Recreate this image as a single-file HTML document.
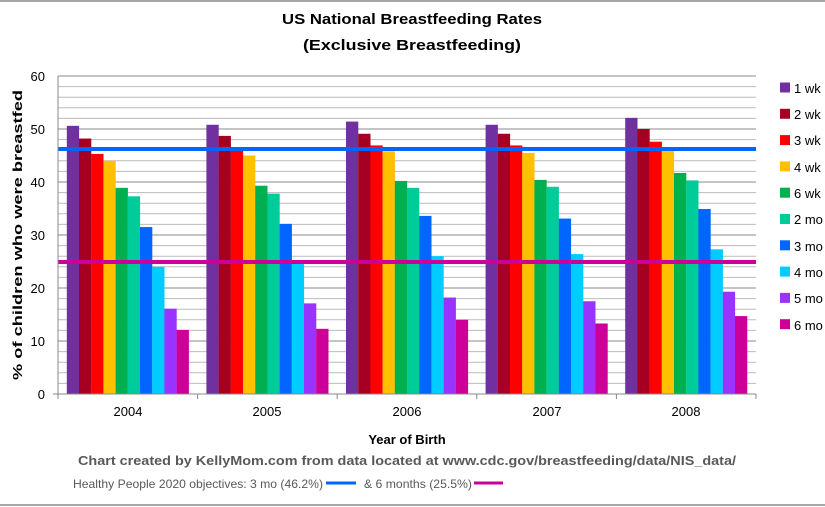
<!DOCTYPE html>
<html><head><meta charset="utf-8"><style>
html,body{margin:0;padding:0;background:#fff}
svg{display:block}
text{font-family:"Liberation Sans",sans-serif}
</style></head><body>
<svg id="s" width="825" height="507" xmlns="http://www.w3.org/2000/svg">
<rect width="825" height="507" fill="#fff"/>
<line x1="0" y1="1" x2="825" y2="1" stroke="#888" stroke-width="1.5"/>
<line x1="0" y1="505" x2="825" y2="505" stroke="#888" stroke-width="1.5"/>
<text x="412" y="24" text-anchor="middle" font-size="15" font-weight="bold" textLength="260" lengthAdjust="spacingAndGlyphs">US National Breastfeeding Rates</text>
<text x="412" y="50" text-anchor="middle" font-size="15" font-weight="bold" textLength="218" lengthAdjust="spacingAndGlyphs">(Exclusive Breastfeeding)</text>
<g id="grid"></g>
<g id="bars"></g>
<line x1="58" y1="149" x2="756" y2="149" stroke="#0066ff" stroke-width="4"/>
<line x1="58" y1="262" x2="756" y2="262" stroke="#cc0099" stroke-width="4"/>
<line x1="58" y1="76" x2="58" y2="399" stroke="#888"/>
<line x1="53" y1="394" x2="756" y2="394" stroke="#888"/>
<g font-size="13" text-anchor="end">
<text x="45" y="81">60</text><text x="45" y="134">50</text><text x="45" y="187">40</text><text x="45" y="240">30</text><text x="45" y="293">20</text><text x="45" y="346">10</text><text x="45" y="399">0</text>
</g>
<g font-size="13" text-anchor="middle">
<text x="128" y="416">2004</text><text x="267" y="416">2005</text><text x="407" y="416">2006</text><text x="547" y="416">2007</text><text x="686" y="416">2008</text>
</g>
<text x="407" y="444" text-anchor="middle" font-size="13" font-weight="bold">Year of Birth</text>
<text transform="translate(22,235) rotate(-90)" text-anchor="middle" font-size="13" font-weight="bold" textLength="290" lengthAdjust="spacingAndGlyphs">% of children who were breastfed</text>
<text x="407" y="465" text-anchor="middle" font-size="13" font-weight="bold" fill="#595959" textLength="658" lengthAdjust="spacingAndGlyphs">Chart created by KellyMom.com from data located at www.cdc.gov/breastfeeding/data/NIS_data/</text>
<text x="73" y="488" font-size="12" fill="#595959" textLength="250" lengthAdjust="spacingAndGlyphs">Healthy People 2020 objectives: 3 mo (46.2%)</text>
<line x1="326" y1="483" x2="356" y2="483" stroke="#0066ff" stroke-width="3"/>
<text x="364" y="488" font-size="12" fill="#595959" textLength="108" lengthAdjust="spacingAndGlyphs">&amp; 6 months (25.5%)</text>
<line x1="474" y1="483" x2="503" y2="483" stroke="#cc0099" stroke-width="3"/>
<g id="leg" font-size="13">
<text x="794" y="93">1 wk</text><text x="794" y="119">2 wk</text><text x="794" y="145">3 wk</text><text x="794" y="172">4 wk</text><text x="794" y="198">6 wk</text><text x="794" y="224">2 mo</text><text x="794" y="251">3 mo</text><text x="794" y="277">4 mo</text><text x="794" y="303">5 mo</text><text x="794" y="330">6 mo</text>
</g>
</svg>
<script>
var NS="http://www.w3.org/2000/svg",s=document.getElementById('grid'),b=document.getElementById('bars');
function el(p,t,a){var e=document.createElementNS(NS,t);for(var k in a)e.setAttribute(k,a[k]);p.appendChild(e);return e;}
for(var v=2;v<=60;v+=2){var y=394-v*5.3;el(s,'line',{x1:58,x2:756,y1:y,y2:y,stroke:v%10?'#bbb':'#888','stroke-width':1});}
for(var i=1;i<=5;i++){var x=58+i*139.6;el(s,'line',{x1:x,x2:x,y1:394,y2:399,stroke:'#888'});}
var C=['#7030a0','#a50021','#ff0000','#ffc000','#00b050','#00cc99','#0066ff','#00ccff','#9933ff','#cc0099'];
var D=[[50.6,48.2,45.3,44.0,38.9,37.3,31.5,24.0,16.1,12.1],[50.8,48.7,46.4,45.0,39.3,37.8,32.1,24.6,17.1,12.3],[51.4,49.1,46.9,45.8,40.2,38.9,33.6,26.0,18.2,14.0],[50.8,49.1,46.9,45.5,40.4,39.1,33.1,26.4,17.5,13.3],[52.1,50.0,47.6,46.5,41.7,40.3,34.9,27.3,19.3,14.7]];
for(var g=0;g<5;g++)for(var k=0;k<10;k++){var h=D[g][k]*5.3;el(b,'rect',{x:58+g*139.6+8.8+k*12.2,y:394-h,width:12.3,height:h,fill:C[k]});}
var L=document.getElementById('leg');for(var k=0;k<10;k++)el(L,'rect',{x:780,y:82.5+k*26.3,width:10,height:10,fill:C[k]});
</script>
</body></html>
